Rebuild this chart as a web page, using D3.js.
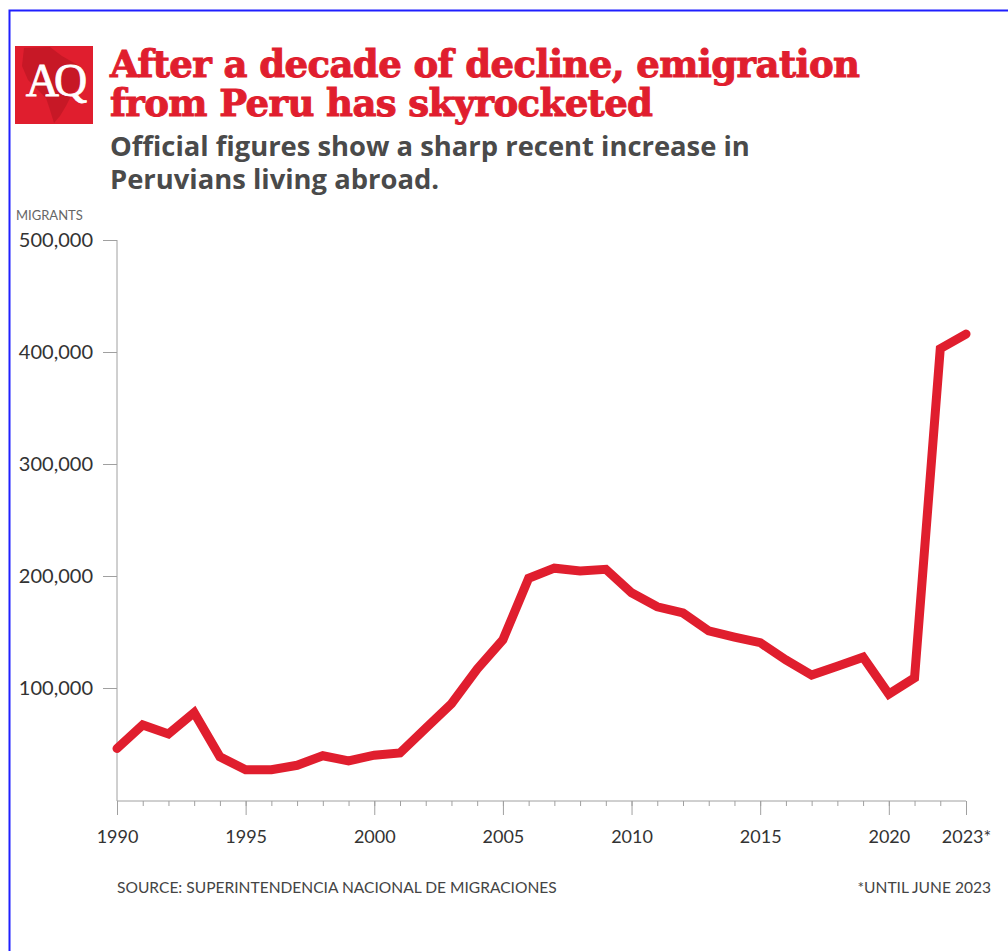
<!DOCTYPE html>
<html><head><meta charset="utf-8">
<script src="https://cdn.jsdelivr.net/npm/d3@7"></script>
<style>html,body{margin:0;padding:0;background:#fff;}svg{display:block;}</style>
</head><body>
<svg id="c" width="1008" height="951"></svg>
<script>
const years = [1990,1991,1992,1993,1994,1995,1996,1997,1998,1999,2000,2001,2002,2003,2004,2005,2006,2007,2008,2009,2010,2011,2012,2013,2014,2015,2016,2017,2018,2019,2020,2021,2022,2023];
const migrants = [46000,67000,59000,78000,38500,27000,27000,31000,39500,35000,40000,42000,64000,86000,117000,143000,198000,207000,204500,206000,185000,172500,167000,151000,145500,140500,125000,111500,119500,127500,94500,109000,403000,416000];
const yTicks = [100000,200000,300000,400000,500000];
const xLabelYears = [1990,1995,2000,2005,2010,2015,2020,2023];
const xLabelText = ["1990","1995","2000","2005","2010","2015","2020","2023*"];
const titleLines = ["After a decade of decline, emigration","from Peru has skyrocketed"];
const subtitleLines = ["Official figures show a sharp recent increase in","Peruvians living abroad."];
const yAxisTitle = "MIGRANTS";
const sourceText = "SOURCE: SUPERINTENDENCIA NACIONAL DE MIGRACIONES";
const noteText = "*UNTIL JUNE 2023";

const svg = d3.select("#c");
const RED = "#e01e2e";

// border
svg.append("rect").attr("x",9.5).attr("y",10.5).attr("width",1010).attr("height",960)
  .attr("fill","none").attr("stroke","#1f1fff").attr("stroke-width",2);

// logo
const logo = svg.append("g");
logo.append("rect").attr("x",15).attr("y",46).attr("width",78).attr("height",78).attr("fill",RED);
logo.append("path")
  .attr("d","M24,48 L50,47 L62,56 L76,64 L86,72 L82,84 L72,94 L66,106 L60,116 L54,123 L50,110 L46,98 L36,88 L28,80 L22,66 Z")
  .attr("fill","#a8121c").attr("opacity",0.45);
logo.append("text").attr("x",54).attr("y",96).attr("text-anchor","middle")
  .attr("font-family","Liberation Serif, serif").attr("font-size",46).attr("fill","#fff")
  .attr("stroke","#fff").attr("stroke-width",0.8)
  .attr("letter-spacing",-5).text("AQ");

function fitText(sel, target){
  const w = sel.node().getComputedTextLength();
  const fs = parseFloat(sel.attr("font-size"));
  sel.attr("font-size", fs*target/w);
}

// title
const t1 = svg.append("text").attr("x",110).attr("y",77).attr("font-family","DejaVu Serif, serif")
  .attr("font-weight","bold").attr("font-size",38).attr("fill",RED).attr("stroke",RED).attr("stroke-width",1)
  .attr("letter-spacing",-0.6).text(titleLines[0]);
fitText(t1, 750);
const fsT = t1.attr("font-size");
svg.append("text").attr("x",110).attr("y",116).attr("font-family","DejaVu Serif, serif")
  .attr("font-weight","bold").attr("font-size",fsT).attr("fill",RED).attr("stroke",RED).attr("stroke-width",1)
  .attr("letter-spacing",-0.6).text(titleLines[1]);

// subtitle
const s1 = svg.append("text").attr("x",110).attr("y",156).attr("font-family","Open Sans, sans-serif")
  .attr("font-weight","bold").attr("font-size",24).attr("fill","#4a4a4a").text(subtitleLines[0]);
fitText(s1, 640);
svg.append("text").attr("x",110).attr("y",189).attr("font-family","Open Sans, sans-serif")
  .attr("font-weight","bold").attr("font-size",s1.attr("font-size")).attr("fill","#4a4a4a").text(subtitleLines[1]);

// y axis title
svg.append("text").attr("x",16).attr("y",220).attr("font-family","Lato, sans-serif")
  .attr("font-size",13).attr("fill","#666").text(yAxisTitle);

// scales
const x = d3.scaleLinear().domain([1990,2023]).range([117,966]);
const y = d3.scaleLinear().domain([0,500000]).range([800,240]);
const AX = "#a0a0a0";

// y axis
const yAxis = svg.append("g").attr("transform","translate(117,0)")
  .call(d3.axisLeft(y).tickValues(yTicks).tickSize(14).tickPadding(10).tickFormat(d3.format(",")));
yAxis.select(".domain").remove();
yAxis.selectAll(".tick line").attr("stroke",AX);
yAxis.selectAll(".tick text").attr("font-family","Lato, sans-serif").attr("font-size",20).attr("fill","#333");
svg.append("line").attr("x1",117).attr("x2",117).attr("y1",y(500000)).attr("y2",801).attr("stroke",AX);

// x axis
svg.append("line").attr("x1",117).attr("x2",966).attr("y1",801).attr("y2",801).attr("stroke",AX);
const xMinor = svg.append("g").attr("transform","translate(0,801)")
  .call(d3.axisBottom(x).tickValues(years).tickSize(5).tickFormat(""));
xMinor.select(".domain").remove();
xMinor.selectAll(".tick line").attr("stroke",AX);
const xMajor = svg.append("g").attr("transform","translate(0,801)")
  .call(d3.axisBottom(x).tickValues(xLabelYears).tickSize(14).tickPadding(15)
    .tickFormat((d,i)=>xLabelText[i]));
xMajor.select(".domain").remove();
xMajor.selectAll(".tick line").attr("stroke",AX);
xMajor.selectAll(".tick text").attr("font-family","Lato, sans-serif").attr("font-size",18).attr("fill","#333");

// line
svg.append("path").datum(years.map((d,i)=>[d,migrants[i]]))
  .attr("fill","none").attr("stroke",RED).attr("stroke-width",9)
  .attr("stroke-linejoin","miter").attr("stroke-linecap","round")
  .attr("d", d3.line().x(d=>x(d[0])).y(d=>y(d[1])));

// footer
const src = svg.append("text").attr("x",117).attr("y",893).attr("font-family","Lato, sans-serif")
  .attr("font-size",13).attr("fill","#444").text(sourceText);
fitText(src, 440);
const nt = svg.append("text").attr("x",991).attr("y",893).attr("text-anchor","end").attr("font-family","Lato, sans-serif")
  .attr("font-size",src.attr("font-size")).attr("fill","#444").text(noteText);
</script>
</body></html>
